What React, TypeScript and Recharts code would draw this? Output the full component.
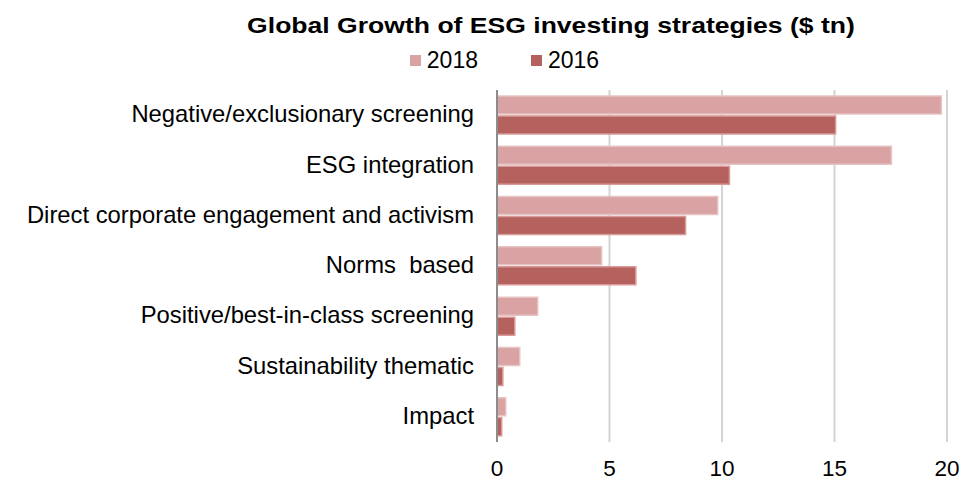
import React from 'react';
import { BarChart, Bar, XAxis, YAxis, CartesianGrid, Legend } from 'recharts';

const CATEGORIES = [
  'Negative/exclusionary screening',
  'ESG integration',
  'Direct corporate engagement and activism',
  'Norms  based',
  'Positive/best-in-class screening',
  'Sustainability thematic',
  'Impact',
];
const VALUES_2018 = [19.75, 17.53, 9.81, 4.65, 1.81, 1.01, 0.39];
const VALUES_2016 = [15.05, 10.33, 8.38, 6.17, 0.79, 0.26, 0.21];
const X_TICKS = [0, 5, 10, 15, 20];

const SERIES = [
  { key: 'y2018', name: '2018', fill: '#d9a3a3', stroke: '#e8c3c3' },
  { key: 'y2016', name: '2016', fill: '#b5615e', stroke: '#d89a98' },
];

const data = CATEGORIES.map((c, i) => ({ category: c, y2018: VALUES_2018[i], y2016: VALUES_2016[i] }));

const FONT = '"Liberation Sans", Arial, sans-serif';

function LegendContent() {
  return (
    <div style={{ display: 'flex', justifyContent: 'center', fontFamily: FONT, fontSize: 23, lineHeight: '26px', height: 26, color: '#000', paddingLeft: 33 }}>
      {SERIES.map((s, i) => (
        <div key={s.key} style={{ display: 'flex', alignItems: 'center', marginRight: i === 0 ? 53 : 0 }}>
          <span style={{ width: 11, height: 11, background: s.fill, marginRight: 6, display: 'inline-block' }} />
          <span>{s.name}</span>
        </div>
      ))}
    </div>
  );
}

function CategoryTick(props: any) {
  const { x, y, payload } = props;
  return (
    <text x={x} y={y} dy="0.3em" textAnchor="end" fill="#000" fontSize={23.8} fontFamily={FONT} style={{ whiteSpace: 'pre' }}>
      {payload.value}
    </text>
  );
}

export default function App() {
  return (
    <div style={{ position: 'absolute', left: 0, top: 0, width: 976, height: 481, background: '#fff' }}>
      <div
        style={{
          position: 'absolute',
          left: 0,
          top: 13,
          width: 1102,
          textAlign: 'center',
          fontFamily: FONT,
          fontWeight: 'bold',
          fontSize: 22.5,
          color: '#000',
          transform: 'scaleX(1.18)',
          transformOrigin: '551px 0',
          whiteSpace: 'nowrap',
        }}
      >
        Global Growth of ESG investing strategies ($ tn)
      </div>
      <BarChart
        layout="vertical"
        width={976}
        height={481}
        data={data}
        margin={{ top: 64, right: 29, bottom: 0, left: 0 }}
        barSize={18}
        barGap={2}
      >
        <CartesianGrid horizontal={false} stroke="#d4d4d4" strokeWidth={2} />
        <XAxis
          type="number"
          domain={[0, 20]}
          ticks={X_TICKS}
          axisLine={false}
          tickLine={false}
          tickSize={0}
          tickMargin={18}
          height={39}
          tick={{ fill: '#000', fontSize: 22.5, fontFamily: FONT }}
        />
        <YAxis
          type="category"
          dataKey="category"
          width={497}
          axisLine={{ stroke: '#8c8c8c', strokeWidth: 2 }}
          tickLine={false}
          tickSize={0}
          tickMargin={23}
          interval={0}
          tick={CategoryTick}
        />
        <Legend verticalAlign="top" content={LegendContent} wrapperStyle={{ top: 47, left: 0, width: 976, height: 26 }} />
        {SERIES.map((s) => (
          <Bar key={s.key} dataKey={s.key} name={s.name} fill={s.fill} stroke={s.stroke} strokeWidth={1.5} isAnimationActive={false} />
        ))}
      </BarChart>
    </div>
  );
}
